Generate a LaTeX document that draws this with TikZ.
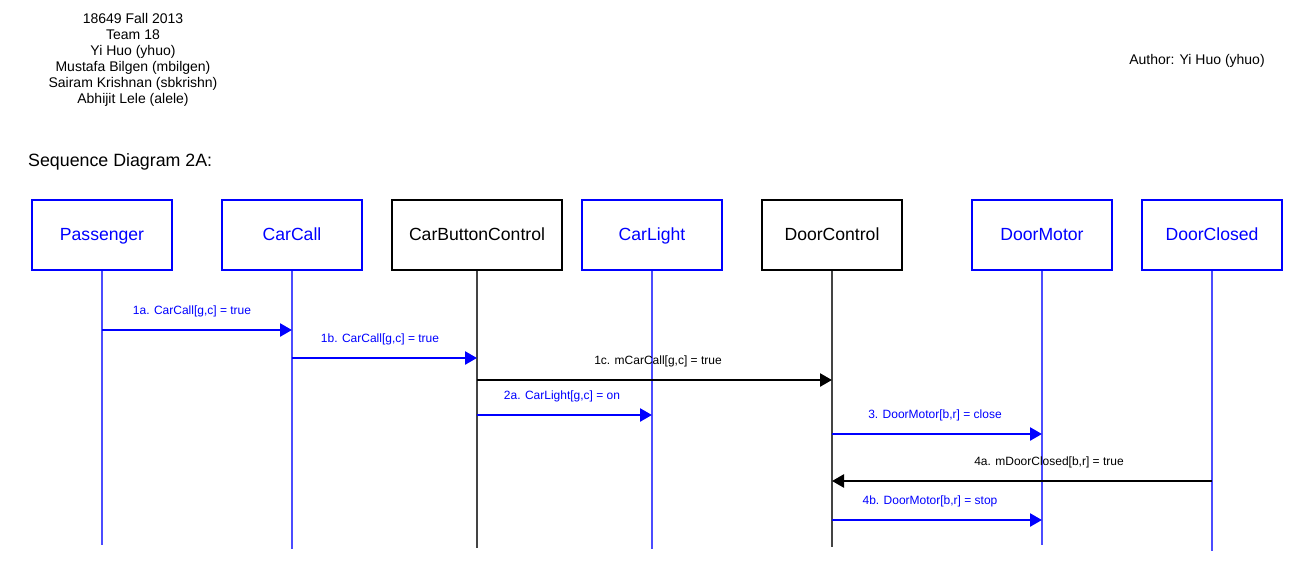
\documentclass[tikz,border=0pt]{standalone}
\usepackage{fontspec}
\setmainfont{Liberation Sans}
\usetikzlibrary{arrows.meta}
\definecolor{pblue}{HTML}{0000FF}
\definecolor{lblue}{HTML}{4C4CFF}
\definecolor{lgray}{HTML}{444444}
\tikzset{
  objbox/.style={draw=pblue, line width=2.4pt, text=pblue, minimum width=140pt, minimum height=70pt, inner sep=0pt, text height=13pt, text depth=3pt, font=\fontsize{17.6pt}{20pt}\selectfont},
  ctlbox/.style={objbox, draw=black, text=black},
  bline/.style={draw=lblue, line width=2.8pt},
  kline/.style={draw=lgray, line width=2.8pt},
  bmsg/.style={draw=pblue, line width=2.5pt, -{Triangle[length=12pt,width=13pt]}},
  kmsg/.style={bmsg, draw=black},
  blab/.style={text=pblue, font=\fontsize{12pt}{14pt}\selectfont, inner sep=0pt, anchor=base},
  klab/.style={blab, text=black},
  hdr/.style={font=\fontsize{14pt}{16pt}\selectfont, align=center, inner sep=0pt}
}
\begin{document}
\begin{tikzpicture}[x=1pt,y=-1pt]
\useasboundingbox[fill=white] (0,0) rectangle (1302,576);
\node[hdr] (hdr) at (133,60) {18649 Fall 2013\\Team 18\\Yi Huo (yhuo)\\Mustafa Bilgen (mbilgen)\\Sairam Krishnan (sbkrishn)\\Abhijit Lele (alele)};
\node[hdr] (author) at (1197,61) {Author: Yi Huo (yhuo)};
\node[hdr, anchor=base west, font=\fontsize{17.8pt}{20pt}\selectfont] (title) at (28,166) {Sequence Diagram 2A:};

\node[objbox] (pas) at (102,235) {Passenger};
\node[objbox] (cc) at (292,235) {CarCall};
\node[ctlbox, minimum width=170pt] (cbc) at (477,235) {CarButtonControl};
\node[objbox] (cl) at (652,235) {CarLight};
\node[ctlbox] (dc) at (832,235) {DoorControl};
\node[objbox] (dm) at (1042,235) {DoorMotor};
\node[objbox] (dcl) at (1212,235) {DoorClosed};

\coordinate (pasE) at (102,545);
\coordinate (ccE) at (292,549);
\coordinate (cbcE) at (477,548);
\coordinate (clE) at (652,549);
\coordinate (dcE) at (832,547);
\coordinate (dmE) at (1042,545);
\coordinate (dclE) at (1212,551);

\draw[bline] (pas.south) -- (pasE);
\draw[bline] (cc.south) -- (ccE);
\draw[kline] (cbc.south) -- (cbcE);
\draw[bline] (cl.south) -- (clE);
\draw[kline] (dc.south) -- (dcE);
\draw[bline] (dm.south) -- (dmE);
\draw[bline] (dcl.south) -- (dclE);

\draw[bmsg] (pasE |- 0,330) -- (ccE |- 0,330);
\node[blab] (l1a) at (192,314) {1a. CarCall[g,c] = true};
\draw[bmsg] (ccE |- 0,358) -- (cbcE |- 0,358);
\node[blab] (l1b) at (380,342) {1b. CarCall[g,c] = true};
\draw[kmsg] (cbcE |- 0,380) -- (dcE |- 0,380);
\node[klab] (l1c) at (658,364) {1c. mCarCall[g,c] = true};
\draw[bmsg] (cbcE |- 0,415) -- (clE |- 0,415);
\node[blab] (l2a) at (562,399) {2a. CarLight[g,c] = on};
\draw[bmsg] (dcE |- 0,434) -- (dmE |- 0,434);
\node[blab] (l3) at (935,418) {3. DoorMotor[b,r] = close};
\draw[kmsg] (dclE |- 0,481) -- (dcE |- 0,481);
\node[klab] (l4a) at (1049,465) {4a. mDoorClosed[b,r] = true};
\draw[bmsg] (dcE |- 0,520) -- (dmE |- 0,520);
\node[blab] (l4b) at (930,504) {4b. DoorMotor[b,r] = stop};
\end{tikzpicture}
\end{document}
